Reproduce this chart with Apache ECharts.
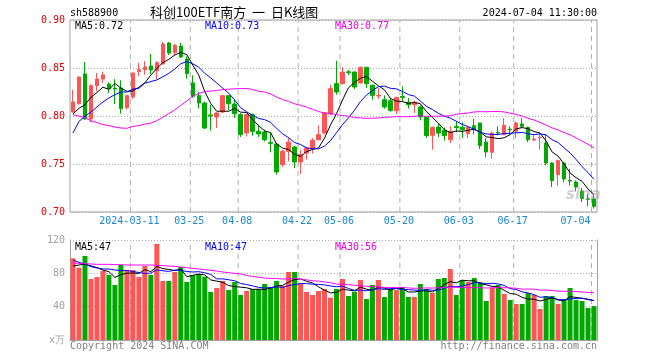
<!DOCTYPE html>
<html>
<head>
<meta charset="utf-8">
<script src="https://cdn.jsdelivr.net/npm/echarts@6/dist/echarts.min.js"></script>
<style>html,body{margin:0;padding:0;background:#fff;}#c{width:660px;height:360px;}</style>
</head>
<body>
<div id="c"></div>
<script>
// ---- data ----
const categories = [
'2024-02-26','2024-02-27','2024-02-28','2024-02-29','2024-03-01',
'2024-03-04','2024-03-05','2024-03-06','2024-03-07','2024-03-08',
'2024-03-11','2024-03-12','2024-03-13','2024-03-14','2024-03-15',
'2024-03-18','2024-03-19','2024-03-20','2024-03-21','2024-03-22',
'2024-03-25','2024-03-26','2024-03-27','2024-03-28','2024-03-29',
'2024-04-01','2024-04-02','2024-04-03',
'2024-04-08','2024-04-09','2024-04-10','2024-04-11','2024-04-12',
'2024-04-15','2024-04-16','2024-04-17','2024-04-18','2024-04-19',
'2024-04-22','2024-04-23','2024-04-24','2024-04-25','2024-04-26',
'2024-04-29','2024-04-30',
'2024-05-06','2024-05-07','2024-05-08','2024-05-09','2024-05-10',
'2024-05-13','2024-05-14','2024-05-15','2024-05-16','2024-05-17',
'2024-05-20','2024-05-21','2024-05-22','2024-05-23','2024-05-24',
'2024-05-27','2024-05-28','2024-05-29','2024-05-30','2024-05-31',
'2024-06-03','2024-06-04','2024-06-05','2024-06-06','2024-06-07',
'2024-06-11','2024-06-12','2024-06-13','2024-06-14',
'2024-06-17','2024-06-18','2024-06-19','2024-06-20','2024-06-21',
'2024-06-24','2024-06-25','2024-06-26','2024-06-27','2024-06-28',
'2024-07-01','2024-07-02','2024-07-03','2024-07-04'];

const opens = [
0.8042,0.8128,0.8438,0.7969,0.8316,0.8385,0.8333,0.8290,0.8292,0.8087,
0.8198,0.8462,0.8483,0.8521,0.8472,0.8542,0.8760,0.8663,0.8729,0.8594,
0.8344,0.8212,0.8135,0.8010,0.7990,0.8042,0.8212,0.8125,0.8014,0.7823,
0.8014,0.7840,0.7833,0.7725,0.7708,0.7493,0.7632,0.7677,0.7521,0.7615,
0.7660,0.7753,0.7823,0.8021,0.8337,0.8337,0.8460,0.8458,0.8344,0.8507,
0.8320,0.8208,0.8170,0.8160,0.8056,0.8203,0.8143,0.8118,0.8094,0.7986,
0.7799,0.7885,0.7851,0.7753,0.7890,0.7882,0.7816,0.7899,0.7927,0.7729,
0.7622,0.7830,0.7806,0.7862,0.7840,0.7917,0.7882,0.7749,0.7775,0.7719,
0.7510,0.7389,0.7510,0.7330,0.7313,0.7215,0.7138,0.7135];
const closes = [
0.8146,0.8406,0.7969,0.8316,0.8385,0.8427,0.8285,0.8280,0.8077,0.8212,
0.8448,0.8483,0.8510,0.8479,0.8556,0.8750,0.8656,0.8736,0.8615,0.8441,
0.8205,0.8135,0.7875,0.8000,0.8031,0.8212,0.8128,0.8024,0.7806,0.8014,
0.7840,0.7813,0.7753,0.7715,0.7417,0.7632,0.7729,0.7521,0.7597,0.7667,
0.7747,0.7806,0.8031,0.8285,0.8250,0.8458,0.8452,0.8302,0.8507,0.8337,
0.8215,0.8215,0.8094,0.8056,0.8194,0.8194,0.8118,0.8143,0.7990,0.7795,
0.7882,0.7823,0.7795,0.7840,0.7880,0.7858,0.7882,0.7858,0.7691,0.7625,
0.7823,0.7822,0.7903,0.7855,0.7927,0.7893,0.7753,0.7760,0.7780,0.7510,
0.7326,0.7535,0.7344,0.7322,0.7260,0.7139,0.7132,0.7059];
const lows = [
0.8035,0.8120,0.7960,0.7934,0.8257,0.8344,0.8240,0.8125,0.8024,0.8066,
0.8177,0.8414,0.8430,0.8437,0.8385,0.8535,0.8634,0.8632,0.8604,0.8389,
0.8188,0.8077,0.7865,0.7847,0.7875,0.8030,0.8060,0.7980,0.7781,0.7788,
0.7795,0.7781,0.7736,0.7622,0.7389,0.7470,0.7528,0.7458,0.7396,0.7545,
0.7608,0.7745,0.7810,0.8010,0.8222,0.8330,0.8425,0.8281,0.8340,0.8292,
0.8170,0.8177,0.8077,0.8045,0.8021,0.8153,0.8077,0.8031,0.7955,0.7771,
0.7649,0.7781,0.7743,0.7719,0.7830,0.7771,0.7771,0.7813,0.7656,0.7570,
0.7555,0.7799,0.7800,0.7806,0.7771,0.7870,0.7729,0.7740,0.7649,0.7486,
0.7260,0.7274,0.7309,0.7274,0.7215,0.7104,0.7059,0.7035];
const highs = [
0.8274,0.8410,0.8563,0.8330,0.8448,0.8462,0.8350,0.8385,0.8372,0.8220,
0.8452,0.8552,0.8573,0.8646,0.8570,0.8771,0.8770,0.8750,0.8760,0.8622,
0.8424,0.8250,0.8150,0.8118,0.8040,0.8220,0.8220,0.8177,0.8030,0.8025,
0.8025,0.7910,0.7858,0.7823,0.7720,0.7650,0.7770,0.7690,0.7649,0.7680,
0.7770,0.7903,0.8040,0.8326,0.8576,0.8507,0.8480,0.8465,0.8515,0.8510,
0.8330,0.8292,0.8215,0.8185,0.8200,0.8309,0.8188,0.8160,0.8110,0.7990,
0.7890,0.7917,0.7880,0.7893,0.7944,0.7934,0.7890,0.7972,0.7930,0.7770,
0.7840,0.7893,0.7979,0.7893,0.7944,0.7979,0.7890,0.7813,0.7823,0.7813,
0.7520,0.7545,0.7520,0.7451,0.7330,0.7250,0.7188,0.7181];
const volumes = [
98,86.8,100.8,73.2,75.6,82.8,78,66,90,84,
84,75.6,88.8,78,115.2,70.8,70.8,81.6,87.6,69.6,
78,79.2,76,57.6,62.4,70.8,60,69.6,54,58.8,
61.2,61.2,67.2,63.6,70.8,64.8,81.6,81.6,67.2,57.6,
54,58.8,61.2,50.8,61.2,73.2,52.8,58,72,49.2,
66,72,51.6,61.2,60,63.6,51.6,51.6,67.2,61.2,
56.4,73.2,74.4,85.2,54,72,69.6,74.4,68.4,46.8,
62.4,66,55.2,48,43.2,43.2,56.4,54,37.2,52.8,
52.8,43.2,49.2,62.4,48,46.8,38.4,40.8];

// moving-average values visible at the left edge (their history lies before the first bar)
const ma5Head  = [0.8020,0.8080,0.8118,0.8194];
const ma10Head = [0.7823,0.7944,0.7997,0.8042,0.8094,0.8146,0.8188,0.8222,0.8250];
const ma30Head = [0.8014,0.8000,0.7982,0.7950,0.7932,0.7910,0.7900,0.7885,0.7875,0.7872,
                  0.7892,0.7900,0.7915,0.7926,0.7952,0.7986,0.8026,0.8063,0.8111,0.8156,
                  0.8208,0.8234,0.8255,0.8260,0.8265,0.8275,0.8280,0.8283,0.8285];
const volMa5Head  = [88.8,90,91,89];
const volMa10Head = [96,93.2,91.2,88,86.4,85.2,85.2,84,83.2];
const volMa30Head = [92.4,92,91.6,91.2,90.8,90.8,90.8,90.4,90.4,90,
                     90,90,90,90,89.6,89.2,88.8,88.4,87.6,86.8,
                     86,85.2,84.4,83.6,82.8,81.6,80.8,80,79.2];

const labelDates = ['2024-03-11','2024-03-25','2024-04-08','2024-04-22','2024-05-06',
                    '2024-05-20','2024-06-03','2024-06-17','2024-07-04'];
const labelTexts = ['2024-03-11','03-25','04-08','04-22','05-06','05-20','06-03','06-17','07-04'];
const priceLegend = ['MA5:0.72','MA10:0.73','MA30:0.77'];
const volLegend = ['MA5:47','MA10:47','MA30:56'];

// ---- build ----
const PRICE_MIN = 0.70, PRICE_MAX = 0.90, PRICE_STEP = 0.05;
const VOL_MIN = 0, VOL_MAX = 120, VOL_STEP = 40;

function movingAvg(vals, n, head) {
  return vals.map((v, i) => {
    if (i < n - 1) return head[i];
    let s = 0; for (let k = i - n + 1; k <= i; k++) s += vals[k];
    return +(s / n).toFixed(5);
  });
}
const RED = '#ff5555', GREEN = '#00a800';
const MONO = '"DejaVu Sans Mono", "Liberation Mono", monospace';
const kData = categories.map((_, i) => [opens[i], closes[i], lows[i], highs[i]]);
const isLabel = (i, v) => labelDates.indexOf(v) >= 0;
// boundary axis: one extra slot so that point i sits on the left edge of trading day i
const boundaryCats = categories.concat(['end']);

function txt(text, pos, color, size, family, extra) {
  return Object.assign({text: text, padding: 0, itemGap: 0,
    textStyle: Object.assign({fontFamily: family || MONO, fontSize: size || 10, fontWeight: 'normal',
      color: color, lineHeight: (size || 10) + 2}, extra || {})}, pos);
}
function dateLineSeries(xIdx, yIdx, lo, hi) {
  return labelDates.map(d => ({
    type: 'line', xAxisIndex: xIdx, yAxisIndex: yIdx, data: [[d, lo], [d, hi]],
    symbol: 'none', silent: true, z: 1,
    lineStyle: {color: '#b0b0b0', width: 1, type: [5, 4]}
  }));
}

const chart = echarts.init(document.getElementById('c'), null, {renderer: 'canvas'});
const dotted = {show: true, lineStyle: {color: '#aaaaaa', type: [1, 2], width: 1}};

chart.setOption({
  animation: false,
  backgroundColor: '#ffffff',
  title: [
    txt('sh588900', {left: 70, top: 7}, '#000'),
    txt('科创100ETF南方  一  日K线图', {left: 150, top: 5}, '#000', 13, '"Noto Sans CJK SC"'),
    txt('2024-07-04 11:30:00', {right: 63, top: 7}, '#000'),
    txt(priceLegend[0], {left: 75, top: 20}, '#000'),
    txt(priceLegend[1], {left: 205, top: 20}, '#0000ee'),
    txt(priceLegend[2], {left: 335, top: 20}, '#ee00ee'),
    txt(volLegend[0], {left: 75, top: 241}, '#000'),
    txt(volLegend[1], {left: 205, top: 241}, '#0000ee'),
    txt(volLegend[2], {left: 335, top: 241}, '#ee00ee'),
    txt('Copyright 2024 SINA.COM', {left: 70, top: 340}, '#808080'),
    txt('http://finance.sina.com.cn', {right: 63, top: 340}, '#808080'),
    txt('sina', {left: 566, top: 187}, 'rgba(150,150,150,0.45)', 15, '"DejaVu Sans"',
      {fontStyle: 'italic', fontWeight: 'bold'})
  ],
  grid: [
    {left: 70, top: 20, width: 527, height: 192, show: true, borderColor: '#a0a0a0', borderWidth: 1, backgroundColor: 'transparent'},
    {left: 70, top: 240, width: 527, height: 100},
    {left: 70.5, top: 20, width: 527, height: 192},
    {left: 70.5, top: 240, width: 527, height: 100}
  ],
  xAxis: [
    {type: 'category', gridIndex: 0, data: categories, boundaryGap: true,
     axisLine: {show: false}, axisTick: {show: false},
     axisLabel: {interval: isLabel, margin: 4,
       formatter: (v) => {
         const t = labelTexts[labelDates.indexOf(v)];
         return v === labelDates[labelDates.length - 1] ? '{b|' + t + '}' : '{a|' + t + '}';
       },
       rich: {
         a: {color: '#1a86d0', fontFamily: MONO, fontSize: 10, padding: [0, 7, 0, 0]},
         b: {color: '#1a86d0', fontFamily: MONO, fontSize: 10, padding: [0, 37, 0, 0]}
       }},
     splitLine: {show: false}},
    {type: 'category', gridIndex: 1, data: categories, boundaryGap: true, position: 'top',
     axisLine: {show: true, lineStyle: {color: '#a0a0a0'}}, axisTick: {show: false},
     axisLabel: {show: false}, splitLine: {show: false}},
    {type: 'category', gridIndex: 2, data: boundaryCats, boundaryGap: false, show: false},
    {type: 'category', gridIndex: 3, data: boundaryCats, boundaryGap: false, show: false}
  ],
  yAxis: [
    {type: 'value', gridIndex: 0, min: PRICE_MIN, max: PRICE_MAX, interval: PRICE_STEP,
     axisLine: {show: false}, axisTick: {show: false},
     axisLabel: {color: '#e60000', fontFamily: MONO, fontSize: 10, margin: 5, formatter: (v) => v.toFixed(2)},
     splitLine: dotted},
    {type: 'value', gridIndex: 1, min: VOL_MIN, max: VOL_MAX, interval: VOL_STEP,
     axisLine: {show: true, lineStyle: {color: '#a0a0a0'}}, axisTick: {show: false},
     axisLabel: {color: '#a0a0a0', fontFamily: MONO, fontSize: 10, margin: 5,
       formatter: (v) => v === 0 ? 'x万' : String(v)},
     splitLine: dotted},
    {type: 'value', gridIndex: 1, min: VOL_MIN, max: VOL_MAX, interval: VOL_STEP, position: 'right',
     axisLine: {show: true, lineStyle: {color: '#a0a0a0'}}, axisTick: {show: false},
     axisLabel: {show: false}, splitLine: {show: false}},
    {type: 'value', gridIndex: 2, min: PRICE_MIN, max: PRICE_MAX, show: false},
    {type: 'value', gridIndex: 3, min: VOL_MIN, max: VOL_MAX, show: false}
  ],
  series: [].concat(
    dateLineSeries(2, 3, PRICE_MIN, PRICE_MAX),
    dateLineSeries(3, 4, VOL_MIN, VOL_MAX),
    [
    {type: 'candlestick', xAxisIndex: 0, yAxisIndex: 0, data: kData, barWidth: 4,
     itemStyle: {color: RED, color0: GREEN, borderColor: RED, borderColor0: GREEN, borderWidth: 1}},
    {type: 'line', xAxisIndex: 0, yAxisIndex: 0, data: movingAvg(closes, 5, ma5Head), symbol: 'none',
     lineStyle: {color: '#000000', width: 1}, z: 3},
    {type: 'line', xAxisIndex: 0, yAxisIndex: 0, data: movingAvg(closes, 10, ma10Head), symbol: 'none',
     lineStyle: {color: '#0000ff', width: 1}, z: 3},
    {type: 'line', xAxisIndex: 0, yAxisIndex: 0, data: movingAvg(closes, 30, ma30Head), symbol: 'none',
     lineStyle: {color: '#ff00ff', width: 1}, z: 3},
    {type: 'bar', xAxisIndex: 1, yAxisIndex: 1, data: volumes, barWidth: 5,
     itemStyle: {color: (p) => closes[p.dataIndex] >= opens[p.dataIndex] ? RED : GREEN}},
    {type: 'line', xAxisIndex: 1, yAxisIndex: 1, data: movingAvg(volumes, 5, volMa5Head), symbol: 'none',
     lineStyle: {color: '#000000', width: 1}, z: 3},
    {type: 'line', xAxisIndex: 1, yAxisIndex: 1, data: movingAvg(volumes, 10, volMa10Head), symbol: 'none',
     lineStyle: {color: '#0000ff', width: 1}, z: 3},
    {type: 'line', xAxisIndex: 1, yAxisIndex: 1, data: movingAvg(volumes, 30, volMa30Head), symbol: 'none',
     lineStyle: {color: '#ff00ff', width: 1}, z: 3}
    ])
});
</script>
</body>
</html>
